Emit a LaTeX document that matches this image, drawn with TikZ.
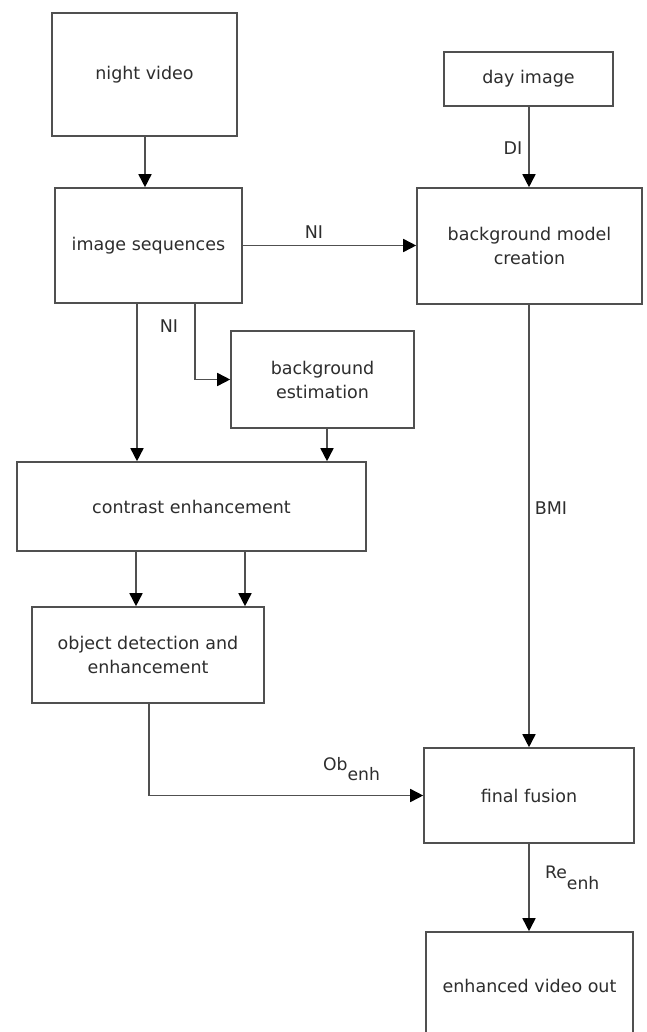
\documentclass[tikz,border=0pt]{standalone}
\usepackage{fontspec}
\setmainfont{DejaVu Sans}
\usetikzlibrary{arrows.meta}
\definecolor{linegray}{RGB}{80,80,80}
\definecolor{txtgray}{RGB}{45,45,45}
\tikzset{
  box/.style={draw=linegray, line width=1.6pt, inner sep=0pt, align=center,
    text=txtgray, font=\fontsize{17.5}{24}\selectfont},
  arr/.style={draw=linegray, line width=1.6pt,
    -{Triangle[length=13pt,width=13pt,fill=black,color=black]}},
  lbl/.style={inner sep=0pt, text=txtgray, font=\fontsize{17.5}{24}\selectfont},
  sublbl/.style={inner sep=0pt, text=txtgray, font=\fontsize{17.2}{20}\selectfont}
}
\begin{document}
\begin{tikzpicture}[x=1pt,y=-1pt]
\useasboundingbox (0,0) rectangle (646,1032);
\clip (0,0) rectangle (646,1032);
\fill[white] (0,0) rectangle (646,1032);

\node[box, minimum width=185pt, minimum height=123pt] (nv) at (144.5,74.5) {night video};
\node[box, minimum width=187pt, minimum height=115pt] (is) at (148.5,245.5) {image sequences};
\node[box, minimum width=169pt, minimum height=54pt] (di) at (528.5,79) {day image};
\node[box, minimum width=225pt, minimum height=116pt] (bmc) at (529.5,246) {background model\\creation};
\node[box, minimum width=183pt, minimum height=97pt] (be) at (322.5,379.5) {background\\estimation};
\node[box, minimum width=349pt, minimum height=89pt] (ce) at (191.5,506.5) {contrast enhancement};
\node[box, minimum width=232pt, minimum height=96pt] (od) at (148,655) {object detection and\\enhancement};
\node[box, minimum width=210pt, minimum height=95pt] (ff) at (529,795.5) {final fusion};
\node[box, minimum width=207pt, minimum height=108pt] (ev) at (529.5,986) {enhanced video out};

\coordinate (xa) at (137,0);
\coordinate (xb) at (195,0);
\coordinate (xc) at (327,0);
\coordinate (xd) at (136,0);
\coordinate (xe) at (245,0);
\coordinate (xf) at (149,0);
\coordinate (xg) at (529,0);
\coordinate (xh) at (145,0);

\draw[arr] (nv.south -| xh) -- (is.north -| xh);
\draw[arr] (is.east) -- (is.east -| bmc.west);
\draw[arr] (is.south -| xa) -- (ce.north -| xa);
\draw[arr] (is.south -| xb) |- (be.west);
\draw[arr] (be.south -| xc) -- (ce.north -| xc);
\draw[arr] (ce.south -| xd) -- (od.north -| xd);
\draw[arr] (ce.south -| xe) -- (od.north -| xe);
\draw[arr] (od.south -| xf) |- (ff.west);
\draw[arr] (di.south -| xg) -- (bmc.north -| xg);
\draw[arr] (bmc.south -| xg) -- (ff.north -| xg);
\draw[arr] (ff.south -| xg) -- (ev.north -| xg);

\node[lbl] (l1) at (314,232) {NI};
\node[lbl] (l2) at (169,326) {NI};
\node[lbl] (l3) at (513,148) {DI};
\node[lbl] (l4) at (551,508) {BMI};
\node[sublbl, anchor=base west] (l5) at (323,770) {Ob\raisebox{-10pt}{enh}};
\node[sublbl, anchor=base west] (l6) at (545,878) {Re\raisebox{-11pt}{enh}};
\end{tikzpicture}
\end{document}
